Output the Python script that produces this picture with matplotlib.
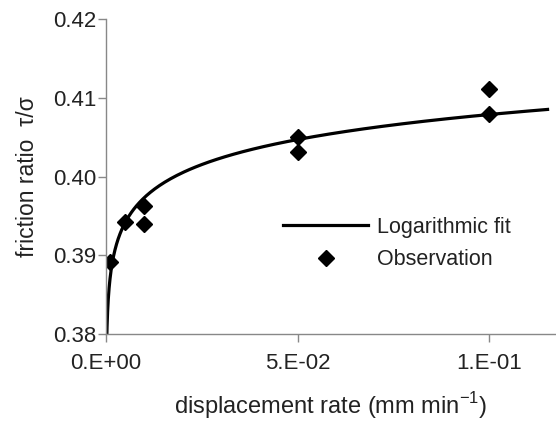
import numpy as np
import matplotlib.pyplot as plt

plt.rcParams['font.family'] = ['Liberation Sans', 'DejaVu Sans']
plt.rcParams['mathtext.fontset'] = 'custom'
plt.rcParams['mathtext.rm'] = 'Liberation Sans'

# observed friction ratio at each displacement rate
rate = [0.001, 0.005, 0.01, 0.01, 0.05, 0.05, 0.1, 0.1]
ratio = [0.3891, 0.3942, 0.3963, 0.3940, 0.4050, 0.4031, 0.4111, 0.4079]

x_ticks = [0.0, 0.05, 0.1]
x_ticklabels = ['0.E+00', '5.E-02', '1.E-01']
y_ticks = [0.38, 0.39, 0.40, 0.41, 0.42]

# logarithmic fit  ratio = a + b ln(rate)
b, a = np.polyfit(np.log(rate), ratio, 1)
xf = np.geomspace(1e-5, 0.1152, 400)
yf = a + b * np.log(xf)

fig = plt.figure(figsize=(5.56, 4.21), dpi=100)
ax = fig.add_axes([0.1906, 0.2067, 0.808, 0.748])

ax.plot(xf, yf, color='black', linewidth=2.3, label='Logarithmic fit')
ax.plot(rate, ratio, linestyle='none', marker='D', markersize=8.6,
        color='black', label='Observation')

ax.set_xlim(0, 0.1172)
ax.set_ylim(0.38, 0.42)
ax.set_xticks(x_ticks)
ax.set_xticklabels(x_ticklabels)
ax.set_yticks(y_ticks)
ax.set_yticklabels([f'{v:.2f}' for v in y_ticks])

for s in ['top', 'right']:
    ax.spines[s].set_visible(False)
for s in ['left', 'bottom']:
    ax.spines[s].set_color('#888888')
    ax.spines[s].set_linewidth(1.0)
ax.tick_params(direction='out', length=5.5, width=1.0, color='#888888',
               labelsize=16, labelcolor='#222222')
ax.tick_params(axis='y', pad=1.5)
ax.tick_params(axis='x', pad=8)

ax.set_xlabel('displacement rate (mm min$^{\\mathregular{-1}}$)', fontsize=17,
              color='#222222', labelpad=12)
ax.set_ylabel('friction ratio  τ/σ', fontsize=16.5, color='#222222', labelpad=10)

ax.legend(loc='upper left', bbox_to_anchor=(283 / 556, 1 - 217 / 421),
          bbox_transform=fig.transFigure, frameon=False, borderpad=0,
          borderaxespad=0, fontsize=15.5, handlelength=3.95,
          handletextpad=0.42, labelspacing=0.52, labelcolor='#222222')

plt.savefig('out.png', dpi=100)
